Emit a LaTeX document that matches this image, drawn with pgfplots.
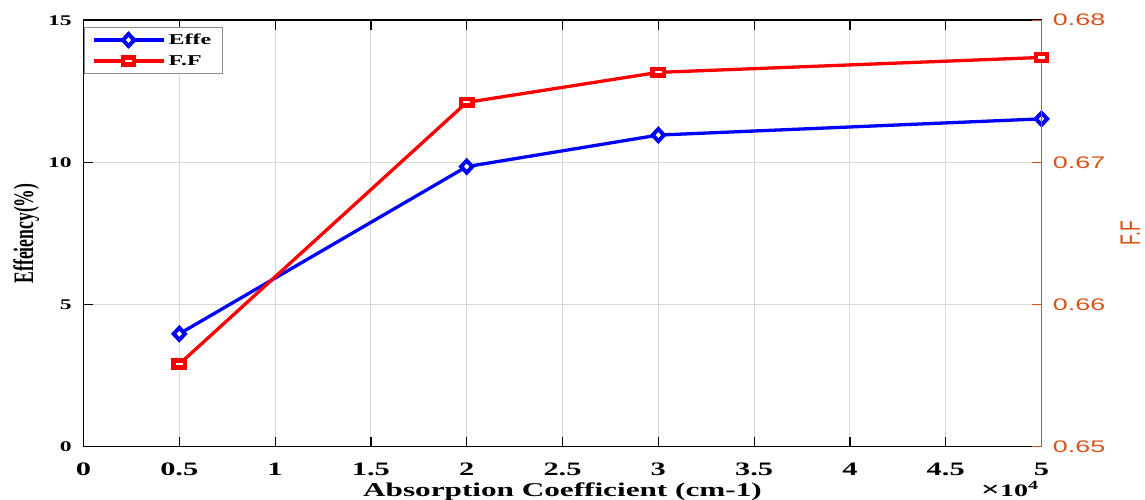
\documentclass[border=0pt]{standalone}
\usepackage{fontspec}
\usepackage{pgfplots}
\pgfplotsset{compat=1.18}
\setmainfont{Liberation Serif}
% wide and narrow cuts of the same faces
\newfontfamily\wideserif[FakeStretch=1.6]{Liberation Serif}
\newfontfamily\widesans[FakeStretch=1.6]{Liberation Sans}
\newfontfamily\narrowserif[FakeStretch=0.625]{Liberation Serif}
\newfontfamily\narrowsans[FakeStretch=0.625]{Liberation Sans}
\newcommand\fs[1]{\fontsize{#1pt}{#1pt}\selectfont}
\definecolor{axorange}{RGB}{217,83,25}

% efficiency (%) against absorption coefficient (x 10^4 cm^-1)
\pgfplotstableread{
x effe
0.5 3.97
2   9.85
3   10.96
5   11.53
}\effetable
% fill factor against absorption coefficient
\pgfplotstableread{
x ff
0.5 0.65581
2   0.67422
3   0.67633
5   0.67738
}\fftable

\pgfplotsset{
  effestyle/.style={blue, line width=3.3pt, mark=diamond*, mark size=6pt,
    every mark/.append style={solid, fill=white, line width=4pt, xscale=1.25}},
  ffstyle/.style={red, line width=3.3pt, mark=square*, mark size=3.4pt,
    every mark/.append style={solid, fill=white, line width=4.6pt, xscale=1.65}},
}

\begin{document}
\begin{tikzpicture}
\path[use as bounding box] (-83.5pt,-52.3pt) rectangle (1061.5pt,446.7pt);

% left axis: efficiency
\begin{axis}[
  at={(0pt,0pt)}, anchor=south west,
  scale only axis, width=958pt, height=426.5pt,
  clip=false,
  xmin=0, xmax=5, ymin=0, ymax=15,
  xtick={0,0.5,1,1.5,2,2.5,3,3.5,4,4.5,5},
  xticklabels={0,0.5,1,1.5,2,2.5,3,3.5,4,4.5,5},
  ytick={0,5,10,15}, yticklabels={0,5,10,15},
  ytick pos=left,
  tick align=inside, major tick length=9.5pt,
  grid=major, grid style={gray!30, line width=1pt},
  axis line style={black, line width=1.5pt},
  every tick/.style={black, line width=1.2pt},
  xticklabel style={font=\wideserif\bfseries\fs{19}, anchor=base, inner sep=0pt, yshift=-28.3pt},
  yticklabel style={font=\wideserif\bfseries\fs{14.8}, anchor=east, inner sep=0pt, xshift=-11.5pt},
  xlabel={Absorption Coefficient (cm-1)},
  every axis x label/.style={at={(axis description cs:0.5,0)}, anchor=base,
    yshift=-49.3pt, inner sep=0pt, font=\wideserif\bfseries\fs{19.5}},
  ylabel={Effeiency(\%)},
  every axis y label/.style={at={(axis description cs:0,0.5)}, xshift=-70.5pt,
    rotate=90, anchor=north, inner sep=0pt, font=\narrowserif\bfseries\fs{28.2}},
]
\addplot[effestyle] table[x=x, y=effe] {\effetable};
\node[anchor=base east, inner sep=0pt, font=\wideserif\bfseries\fs{17.5}]
  at (rel axis cs:1,0) [xshift=-3.2pt, yshift=-50pt]
  {\raisebox{0.5pt}{\fs{21}×}10\raisebox{7pt}{\fs{12.5}4}};
\end{axis}

% right axis: fill factor
\begin{axis}[
  at={(0pt,0pt)}, anchor=south west,
  scale only axis, width=958pt, height=426.5pt,
  clip=false,
  xmin=0, xmax=5, ymin=0.65, ymax=0.68,
  axis x line=none, axis y line*=right,
  ytick={0.65,0.66,0.67,0.68}, yticklabels={0.65,0.66,0.67,0.68},
  tick align=inside, major tick length=9.5pt,
  y axis line style={axorange, line width=1.5pt, -},
  every tick/.style={axorange, line width=1.2pt},
  yticklabel style={font=\widesans\fs{16.8}, text=axorange, anchor=west, inner sep=0pt, xshift=11.2pt},
  ylabel={F.F},
  every axis y label/.style={at={(axis description cs:1,0.5)}, xshift=79pt,
    rotate=90, anchor=north, inner sep=0pt, font=\narrowsans\fs{28}, text=axorange},
  legend style={at={(axis description cs:0,1)}, anchor=north west, yshift=-6.5pt,
    draw=black!45, line width=0.8pt, fill=white,
    font=\wideserif\bfseries\fs{15},
    inner xsep=8pt, inner ysep=3.4pt, row sep=2.3pt,
    nodes={inner sep=3.5pt}, cells={anchor=west}},
  legend image code/.code={\draw[mark repeat=2, mark phase=2, #1]
    plot coordinates {(0pt,0pt) (35pt,0pt) (70pt,0pt)};},
]
\addlegendimage{effestyle}
\addplot[ffstyle] table[x=x, y=ff] {\fftable};
\legend{Effe,F.F}
\end{axis}
\end{tikzpicture}
\end{document}
